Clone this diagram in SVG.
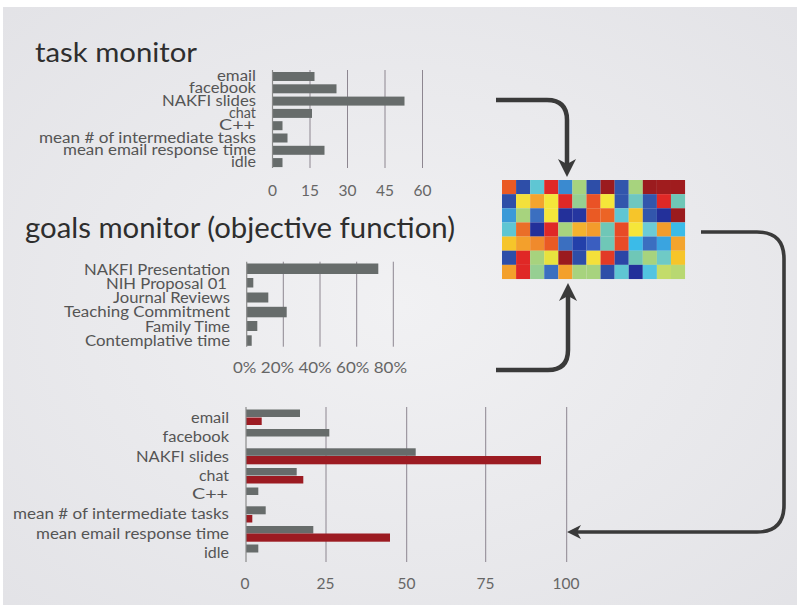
<svg xmlns="http://www.w3.org/2000/svg" width="797" height="605" viewBox="0 0 797 605">
  <style>
    text { font-family: Lato, "Open Sans", "Liberation Sans", sans-serif; }
    .title { fill: #2e2e2e; font-size: 27px; }
    .lbl { fill: #555; font-size: 15.5px; text-anchor: end; }
    .tick { fill: #666; font-size: 15.5px; text-anchor: middle; }
    .grid { stroke: #8d8690; stroke-width: 1; }
    .axis { stroke: #8a8a8a; stroke-width: 1.2; }
    .bar { fill: #676c6b; }
    .red { fill: #9c1b22; }
    .conn { fill: none; stroke: #3a3a3a; stroke-linecap: butt; stroke-linejoin: round; }
  </style>
  <defs>
    <radialGradient id="bg" cx="0.5" cy="0.5" r="0.75">
      <stop offset="0" stop-color="#f1f1f3"/>
      <stop offset="1" stop-color="#e2e2e6"/>
    </radialGradient>
    <marker id="headL" viewBox="0 0 18 18" markerWidth="18" markerHeight="18" refX="6" refY="9" orient="auto" markerUnits="userSpaceOnUse">
      <path d="M0,0 L18,9 L0,18 L5,9 z" fill="#3a3a3a"/>
    </marker>
    <marker id="headS" viewBox="0 0 14 14" markerWidth="14" markerHeight="14" refX="5" refY="7" orient="auto" markerUnits="userSpaceOnUse">
      <path d="M0,0 L14,7 L0,14 L4,7 z" fill="#3a3a3a"/>
    </marker>
  </defs>

  <!-- page -->
  <rect x="0" y="0" width="797" height="605" fill="#ffffff"/>
  <rect x="3" y="7" width="794" height="598" fill="url(#bg)"/>

  <!-- task monitor chart -->
  <g id="task-monitor">
    <text class="title" x="35" y="62" textLength="162" lengthAdjust="spacingAndGlyphs">task monitor</text>
    <line class="grid" x1="310" y1="70" x2="310" y2="168"/>
    <line class="grid" x1="347.5" y1="70" x2="347.5" y2="168"/>
    <line class="grid" x1="385" y1="70" x2="385" y2="168"/>
    <line class="grid" x1="422.5" y1="70" x2="422.5" y2="168"/>
    <rect class="bar" x="272.5" y="72" width="42" height="9"/>
    <rect class="bar" x="272.5" y="84.3" width="64" height="9"/>
    <rect class="bar" x="272.5" y="96.6" width="132" height="9"/>
    <rect class="bar" x="272.5" y="108.9" width="39.5" height="9"/>
    <rect class="bar" x="272.5" y="121.2" width="10" height="9"/>
    <rect class="bar" x="272.5" y="133.5" width="15" height="9"/>
    <rect class="bar" x="272.5" y="145.8" width="52" height="9"/>
    <rect class="bar" x="272.5" y="158.1" width="10" height="9"/>
    <line class="axis" x1="272.5" y1="70" x2="272.5" y2="168"/>
    <text class="lbl" x="256" y="81" textLength="39" lengthAdjust="spacingAndGlyphs">email</text>
    <text class="lbl" x="256" y="93.3" textLength="67" lengthAdjust="spacingAndGlyphs">facebook</text>
    <text class="lbl" x="256" y="105.8" textLength="94" lengthAdjust="spacingAndGlyphs">NAKFI slides</text>
    <text class="lbl" x="256" y="118" textLength="27" lengthAdjust="spacingAndGlyphs">chat</text>
    <text class="lbl" x="255" y="129.5" textLength="36" lengthAdjust="spacingAndGlyphs">C++</text>
    <text class="lbl" x="256" y="142.5" textLength="217" lengthAdjust="spacingAndGlyphs">mean # of intermediate tasks</text>
    <text class="lbl" x="256" y="154.8" textLength="193" lengthAdjust="spacingAndGlyphs">mean email response time</text>
    <text class="lbl" x="256" y="167" textLength="25" lengthAdjust="spacingAndGlyphs">idle</text>
    <text class="tick" x="272.5" y="196">0</text>
    <text class="tick" x="310" y="196">15</text>
    <text class="tick" x="347.5" y="196">30</text>
    <text class="tick" x="385" y="196">45</text>
    <text class="tick" x="422.5" y="196">60</text>
  </g>

  <!-- goals monitor chart -->
  <g id="goals-monitor">
    <text class="title" x="25" y="238" textLength="430" lengthAdjust="spacingAndGlyphs" style="font-size:29px">goals monitor (objective function)</text>
    <line class="grid" x1="283.3" y1="261.7" x2="283.3" y2="346.7"/>
    <line class="grid" x1="320" y1="261.7" x2="320" y2="346.7"/>
    <line class="grid" x1="356.7" y1="261.7" x2="356.7" y2="346.7"/>
    <line class="grid" x1="393.3" y1="261.7" x2="393.3" y2="346.7"/>
    <rect class="bar" x="246.7" y="263.5" width="131.6" height="10.5"/>
    <rect class="bar" x="246.7" y="278" width="6.6" height="9.5"/>
    <rect class="bar" x="246.7" y="292.5" width="21.6" height="10"/>
    <rect class="bar" x="246.7" y="306.8" width="40" height="10.5"/>
    <rect class="bar" x="246.7" y="321" width="10.6" height="10"/>
    <rect class="bar" x="246.7" y="335.3" width="5" height="10.5"/>
    <line class="axis" x1="246.7" y1="261.7" x2="246.7" y2="346.7"/>
    <text class="lbl" x="230" y="275" textLength="146" lengthAdjust="spacingAndGlyphs">NAKFI Presentation</text>
    <text class="lbl" x="227" y="289.3" textLength="121" lengthAdjust="spacingAndGlyphs">NIH Proposal 01</text>
    <text class="lbl" x="230" y="303" textLength="117" lengthAdjust="spacingAndGlyphs">Journal Reviews</text>
    <text class="lbl" x="230" y="316.7" textLength="166" lengthAdjust="spacingAndGlyphs">Teaching Commitment</text>
    <text class="lbl" x="230" y="331.5" textLength="85" lengthAdjust="spacingAndGlyphs">Family Time</text>
    <text class="lbl" x="230" y="345.8" textLength="145" lengthAdjust="spacingAndGlyphs">Contemplative time</text>
    <text class="tick" x="233" y="373" style="text-anchor:start" textLength="174" lengthAdjust="spacingAndGlyphs">0% 20% 40% 60% 80%</text>
  </g>

  <!-- optimiser matrix -->
  <g id="matrix">
    <g transform="translate(502,180)">
      <!-- row 1 -->
      <rect x="0" y="0" width="14.1" height="14.2" fill="#ea5a24"/>
      <rect x="14.08" y="0" width="14.1" height="14.2" fill="#2e4ea8"/>
      <rect x="28.16" y="0" width="14.1" height="14.2" fill="#5fc6d3"/>
      <rect x="42.24" y="0" width="14.1" height="14.2" fill="#e02826"/>
      <rect x="56.32" y="0" width="14.1" height="14.2" fill="#3a8ad0"/>
      <rect x="70.4" y="0" width="14.1" height="14.2" fill="#a7d37e"/>
      <rect x="84.48" y="0" width="14.1" height="14.2" fill="#2e4ea8"/>
      <rect x="98.56" y="0" width="14.1" height="14.2" fill="#9b1b1e"/>
      <rect x="112.64" y="0" width="14.1" height="14.2" fill="#3256ac"/>
      <rect x="126.72" y="0" width="14.1" height="14.2" fill="#a7d37e"/>
      <rect x="140.8" y="0" width="14.1" height="14.2" fill="#9b1b1e"/>
      <rect x="154.88" y="0" width="14.1" height="14.2" fill="#a01c1e"/>
      <rect x="168.96" y="0" width="14.1" height="14.2" fill="#a01c1e"/>
      <!-- row 2 -->
      <rect x="0" y="14.14" width="14.1" height="14.2" fill="#2e4ea8"/>
      <rect x="14.08" y="14.14" width="14.1" height="14.2" fill="#f3e03c"/>
      <rect x="28.16" y="14.14" width="14.1" height="14.2" fill="#f3a42e"/>
      <rect x="42.24" y="14.14" width="14.1" height="14.2" fill="#f5e63a"/>
      <rect x="56.32" y="14.14" width="14.1" height="14.2" fill="#e02826"/>
      <rect x="70.4" y="14.14" width="14.1" height="14.2" fill="#96cf92"/>
      <rect x="84.48" y="14.14" width="14.1" height="14.2" fill="#ea5226"/>
      <rect x="98.56" y="14.14" width="14.1" height="14.2" fill="#f5e63a"/>
      <rect x="112.64" y="14.14" width="14.1" height="14.2" fill="#3256ac"/>
      <rect x="126.72" y="14.14" width="14.1" height="14.2" fill="#6fc7c0"/>
      <rect x="140.8" y="14.14" width="14.1" height="14.2" fill="#3256ac"/>
      <rect x="154.88" y="14.14" width="14.1" height="14.2" fill="#e02826"/>
      <rect x="168.96" y="14.14" width="14.1" height="14.2" fill="#6fc7b7"/>
      <!-- row 3 -->
      <rect x="0" y="28.28" width="14.1" height="14.2" fill="#3a9ad8"/>
      <rect x="14.08" y="28.28" width="14.1" height="14.2" fill="#a7d37e"/>
      <rect x="28.16" y="28.28" width="14.1" height="14.2" fill="#3b6fc0"/>
      <rect x="42.24" y="28.28" width="14.1" height="14.2" fill="#f5e63a"/>
      <rect x="56.32" y="28.28" width="14.1" height="14.2" fill="#23309a"/>
      <rect x="70.4" y="28.28" width="14.1" height="14.2" fill="#2536a0"/>
      <rect x="84.48" y="28.28" width="14.1" height="14.2" fill="#ea5a24"/>
      <rect x="98.56" y="28.28" width="14.1" height="14.2" fill="#ec6426"/>
      <rect x="112.64" y="28.28" width="14.1" height="14.2" fill="#5fc6d3"/>
      <rect x="126.72" y="28.28" width="14.1" height="14.2" fill="#f6c52a"/>
      <rect x="140.8" y="28.28" width="14.1" height="14.2" fill="#3256ac"/>
      <rect x="154.88" y="28.28" width="14.1" height="14.2" fill="#23309a"/>
      <rect x="168.96" y="28.28" width="14.1" height="14.2" fill="#9b1b1e"/>
      <!-- row 4 -->
      <rect x="0" y="42.42" width="14.1" height="14.2" fill="#5fc6d3"/>
      <rect x="14.08" y="42.42" width="14.1" height="14.2" fill="#ea6e28"/>
      <rect x="28.16" y="42.42" width="14.1" height="14.2" fill="#23309a"/>
      <rect x="42.24" y="42.42" width="14.1" height="14.2" fill="#e02826"/>
      <rect x="56.32" y="42.42" width="14.1" height="14.2" fill="#a7d37e"/>
      <rect x="70.4" y="42.42" width="14.1" height="14.2" fill="#f4b22e"/>
      <rect x="84.48" y="42.42" width="14.1" height="14.2" fill="#f39c2c"/>
      <rect x="98.56" y="42.42" width="14.1" height="14.2" fill="#6fc7b7"/>
      <rect x="112.64" y="42.42" width="14.1" height="14.2" fill="#e84a26"/>
      <rect x="126.72" y="42.42" width="14.1" height="14.2" fill="#f5e63a"/>
      <rect x="140.8" y="42.42" width="14.1" height="14.2" fill="#6ccbd6"/>
      <rect x="154.88" y="42.42" width="14.1" height="14.2" fill="#f39c2c"/>
      <rect x="168.96" y="42.42" width="14.1" height="14.2" fill="#3bbbe8"/>
      <!-- row 5 -->
      <rect x="0" y="56.56" width="14.1" height="14.2" fill="#f6c52a"/>
      <rect x="14.08" y="56.56" width="14.1" height="14.2" fill="#f3a02c"/>
      <rect x="28.16" y="56.56" width="14.1" height="14.2" fill="#f08a2c"/>
      <rect x="42.24" y="56.56" width="14.1" height="14.2" fill="#ea5a24"/>
      <rect x="56.32" y="56.56" width="14.1" height="14.2" fill="#3b6fc0"/>
      <rect x="70.4" y="56.56" width="14.1" height="14.2" fill="#2340aa"/>
      <rect x="84.48" y="56.56" width="14.1" height="14.2" fill="#3a5ec0"/>
      <rect x="98.56" y="56.56" width="14.1" height="14.2" fill="#6fc7b7"/>
      <rect x="112.64" y="56.56" width="14.1" height="14.2" fill="#e84a26"/>
      <rect x="126.72" y="56.56" width="14.1" height="14.2" fill="#3bbbe8"/>
      <rect x="140.8" y="56.56" width="14.1" height="14.2" fill="#3b6fc0"/>
      <rect x="154.88" y="56.56" width="14.1" height="14.2" fill="#3aa4e0"/>
      <rect x="168.96" y="56.56" width="14.1" height="14.2" fill="#f3a42e"/>
      <!-- row 6 -->
      <rect x="0" y="70.7" width="14.1" height="14.2" fill="#2e4ea8"/>
      <rect x="14.08" y="70.7" width="14.1" height="14.2" fill="#e02826"/>
      <rect x="28.16" y="70.7" width="14.1" height="14.2" fill="#a7d37e"/>
      <rect x="42.24" y="70.7" width="14.1" height="14.2" fill="#e8e23e"/>
      <rect x="56.32" y="70.7" width="14.1" height="14.2" fill="#9b1b1e"/>
      <rect x="70.4" y="70.7" width="14.1" height="14.2" fill="#2e4ea8"/>
      <rect x="84.48" y="70.7" width="14.1" height="14.2" fill="#f5e03a"/>
      <rect x="98.56" y="70.7" width="14.1" height="14.2" fill="#e23a26"/>
      <rect x="112.64" y="70.7" width="14.1" height="14.2" fill="#2b45a6"/>
      <rect x="126.72" y="70.7" width="14.1" height="14.2" fill="#6fc7b7"/>
      <rect x="140.8" y="70.7" width="14.1" height="14.2" fill="#a7d37e"/>
      <rect x="154.88" y="70.7" width="14.1" height="14.2" fill="#6fcac6"/>
      <rect x="168.96" y="70.7" width="14.1" height="14.2" fill="#f6c52a"/>
      <!-- row 7 -->
      <rect x="0" y="84.84" width="14.1" height="14.2" fill="#f3a02c"/>
      <rect x="14.08" y="84.84" width="14.1" height="14.2" fill="#e02826"/>
      <rect x="28.16" y="84.84" width="14.1" height="14.2" fill="#96cf92"/>
      <rect x="42.24" y="84.84" width="14.1" height="14.2" fill="#3b6fc0"/>
      <rect x="56.32" y="84.84" width="14.1" height="14.2" fill="#f3a02c"/>
      <rect x="70.4" y="84.84" width="14.1" height="14.2" fill="#a7d37e"/>
      <rect x="84.48" y="84.84" width="14.1" height="14.2" fill="#a7d37e"/>
      <rect x="98.56" y="84.84" width="14.1" height="14.2" fill="#2e4ea8"/>
      <rect x="112.64" y="84.84" width="14.1" height="14.2" fill="#5fc6d3"/>
      <rect x="126.72" y="84.84" width="14.1" height="14.2" fill="#23309a"/>
      <rect x="140.8" y="84.84" width="14.1" height="14.2" fill="#52c4e0"/>
      <rect x="154.88" y="84.84" width="14.1" height="14.2" fill="#c3dc6a"/>
      <rect x="168.96" y="84.84" width="14.1" height="14.2" fill="#b8d872"/>
    </g>
  </g>

  <!-- result chart: measured (grey) vs. target (red) -->
  <g id="result-chart">
    <line class="grid" x1="326" y1="407" x2="326" y2="562"/>
    <line class="grid" x1="406.7" y1="407" x2="406.7" y2="562"/>
    <line class="grid" x1="485.7" y1="407" x2="485.7" y2="562"/>
    <line class="grid" x1="566.7" y1="407" x2="566.7" y2="562"/>
    <rect class="bar" x="246" y="409.5" width="54" height="7.5"/>
    <rect class="red" x="246" y="417.5" width="15.7" height="7.5"/>
    <rect class="bar" x="246" y="429" width="83.3" height="7.5"/>
    <rect class="bar" x="246" y="448.3" width="169.7" height="7.5"/>
    <rect class="red" x="246" y="456" width="295" height="8.3"/>
    <rect class="bar" x="246" y="468" width="50.7" height="7.5"/>
    <rect class="red" x="246" y="476" width="57.3" height="7.5"/>
    <rect class="bar" x="246" y="487.5" width="12.3" height="7.5"/>
    <rect class="bar" x="246" y="506.3" width="19.7" height="8"/>
    <rect class="red" x="246" y="515" width="6.3" height="7.5"/>
    <rect class="bar" x="246" y="526" width="67.3" height="7.5"/>
    <rect class="red" x="246" y="533.5" width="144" height="8.2"/>
    <rect class="bar" x="246" y="544.5" width="12.3" height="8"/>
    <line class="axis" x1="246" y1="407" x2="246" y2="562"/>
    <text class="lbl" x="229" y="423" textLength="38" lengthAdjust="spacingAndGlyphs">email</text>
    <text class="lbl" x="229" y="442.3" textLength="66.5" lengthAdjust="spacingAndGlyphs">facebook</text>
    <text class="lbl" x="229" y="461.7" textLength="93" lengthAdjust="spacingAndGlyphs">NAKFI slides</text>
    <text class="lbl" x="229" y="481.3" textLength="30" lengthAdjust="spacingAndGlyphs">chat</text>
    <text class="lbl" x="228" y="499.3" textLength="36" lengthAdjust="spacingAndGlyphs">C++</text>
    <text class="lbl" x="229" y="519.3" textLength="216" lengthAdjust="spacingAndGlyphs">mean # of intermediate tasks</text>
    <text class="lbl" x="229" y="539.3" textLength="193" lengthAdjust="spacingAndGlyphs">mean email response time</text>
    <text class="lbl" x="229" y="558.3" textLength="25" lengthAdjust="spacingAndGlyphs">idle</text>
    <text class="tick" x="245" y="589">0</text>
    <text class="tick" x="325.5" y="589">25</text>
    <text class="tick" x="406.5" y="589">50</text>
    <text class="tick" x="485.5" y="589">75</text>
    <text class="tick" x="566" y="589">100</text>
  </g>

  <!-- connectors -->
  <g id="connectors">
    <path class="conn" d="M496,100 H547 Q567,100 567,120 V165" stroke-width="4.5" marker-end="url(#headL)"/>
    <path class="conn" d="M496,370 H548 Q568,370 568,350 V295" stroke-width="4.5" marker-end="url(#headL)"/>
    <path class="conn" d="M701,232 H757 Q784,232 784,259 V505 Q784,532 757,532 H576" stroke-width="3.6" marker-end="url(#headS)"/>
  </g>
</svg>
